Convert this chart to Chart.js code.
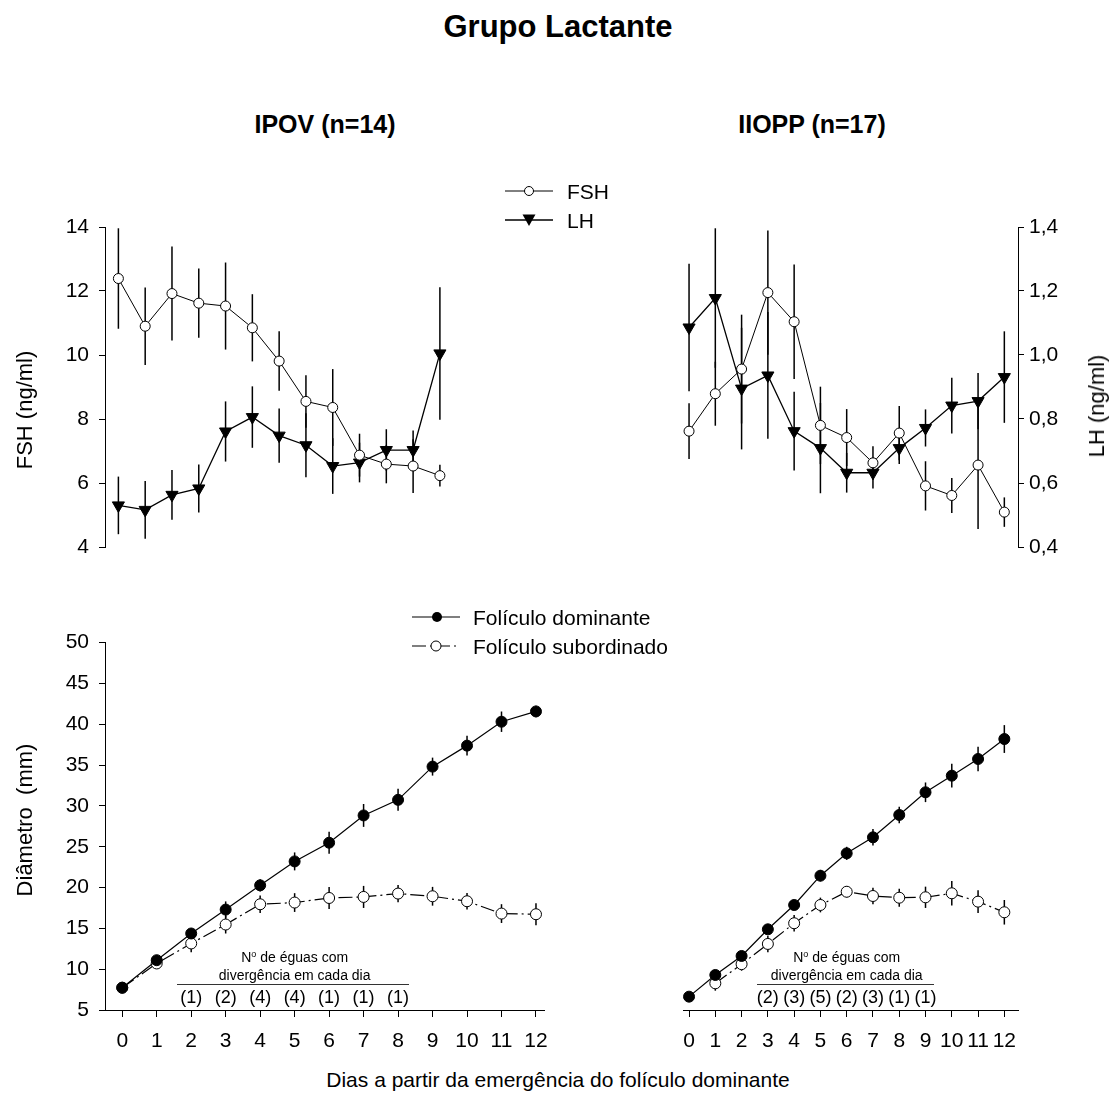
<!DOCTYPE html>
<html>
<head>
<meta charset="utf-8">
<script src="https://cdn.jsdelivr.net/npm/chart.js@4.4.0/dist/chart.umd.min.js"></script>
<style>
  body { margin: 0; background: #fff; }
  #page { position: relative; width: 1116px; height: 1110px; overflow: hidden;
          font-family: "Liberation Sans", Arial, sans-serif; color: #000; }
  canvas { position: absolute; }
  .t { position: absolute; white-space: nowrap; transform: translate(-50%, -50%); }
  .l { position: absolute; white-space: nowrap; transform: translateY(-50%); }
  .rot { transform: translate(-50%, -50%) rotate(-90deg); }
  .rule { position: absolute; height: 1px; background: #333; }
  svg { position: absolute; overflow: visible; }
</style>
</head>
<body>
<div id="page">
  <canvas id="topLeft" width="560" height="440" style="left:0;top:180px"></canvas>
  <canvas id="topRight" width="556" height="440" style="left:560px;top:180px"></canvas>
  <canvas id="botLeft" width="560" height="440" style="left:0;top:620px"></canvas>
  <canvas id="botRight" width="556" height="440" style="left:560px;top:620px"></canvas>

  <div class="t" style="left:558px;top:27px;font-size:31px;font-weight:bold">Grupo Lactante</div>
  <div class="t" style="left:325px;top:124px;font-size:25px;font-weight:bold">IPOV (n=14)</div>
  <div class="t" style="left:812px;top:124px;font-size:25px;font-weight:bold">IIOPP (n=17)</div>

  <div class="t rot" style="left:25px;top:410px;font-size:22px">FSH (ng/ml)</div>
  <div class="t rot" style="left:1097px;top:406px;font-size:22px">LH (ng/ml)</div>
  <div class="t rot" style="left:25px;top:820px;font-size:22px">Diâmetro&nbsp;&nbsp;(mm)</div>
  <div class="t" style="left:558px;top:1080px;font-size:21px">Dias a partir da emergência do folículo dominante</div>

  <!-- legends -->
  <svg style="left:0;top:0" width="1" height="1">
    <line x1="505" y1="191" x2="553" y2="191" stroke="#000" stroke-width="1"/>
    <circle cx="529" cy="191" r="4.5" fill="#fff" stroke="#000" stroke-width="1"/>
    <line x1="505" y1="220" x2="553" y2="220" stroke="#000" stroke-width="1.3"/>
    <polygon points="522.5,214.5 535.5,214.5 529,226" fill="#000"/>
    <line x1="412" y1="617" x2="460" y2="617" stroke="#000" stroke-width="1.2"/>
    <circle cx="437" cy="617" r="5" fill="#000"/>
    <line x1="412" y1="646" x2="460" y2="646" stroke="#000" stroke-width="1.2" stroke-dasharray="14,4,2,4"/>
    <circle cx="436" cy="646" r="5" fill="#fff" stroke="#000" stroke-width="1"/>
  </svg>
  <div class="l" style="left:567px;top:192px;font-size:21px">FSH</div>
  <div class="l" style="left:567px;top:221px;font-size:21px">LH</div>
  <div class="l" style="left:473px;top:618px;font-size:21px">Folículo dominante</div>
  <div class="l" style="left:473px;top:647px;font-size:21px">Folículo subordinado</div>
</div>

<script>
// days after emergence of the dominant follicle
const days = [0, 1, 2, 3, 4, 5, 6, 7, 8, 9, 10, 11, 12];

// IPOV (n=14) hormones
const fshIPOV   = [12.39, 10.90, 11.92, 11.62, 11.53, 10.85, 9.81, 8.55, 8.36, 6.87, 6.59, 6.53, 6.23];
const fshIPOVse = [1.57, 1.21, 1.47, 1.08, 1.36, 1.05, 0.93, 0.82, 1.20, 0.67, 0.60, 0.84, 0.34];
const lhIPOV    = [0.530, 0.516, 0.563, 0.583, 0.761, 0.806, 0.748, 0.718, 0.653, 0.664, 0.703, 0.703, 1.005];
const lhIPOVse  = [0.090, 0.090, 0.078, 0.075, 0.094, 0.096, 0.085, 0.100, 0.087, 0.062, 0.065, 0.061, 0.207];

// IIOPP (n=17) hormones
const fshIIOPP   = [7.62, 8.79, 9.56, 11.95, 11.04, 7.80, 7.42, 6.63, 7.56, 5.91, 5.61, 6.56, 5.09];
const fshIIOPPse = [0.87, 1.00, 1.70, 1.94, 1.79, 1.21, 0.89, 0.52, 0.85, 0.77, 0.55, 2.00, 0.46];
const lhIIOPP    = [1.086, 1.178, 0.895, 0.936, 0.762, 0.709, 0.632, 0.632, 0.709, 0.772, 0.842, 0.856, 0.931];
const lhIIOPPse  = [0.199, 0.218, 0.190, 0.198, 0.123, 0.141, 0.062, 0.049, 0.050, 0.058, 0.087, 0.088, 0.143];

// follicle diameters (mm)
const domIPOV    = [7.73, 11.10, 14.37, 17.30, 20.27, 23.20, 25.49, 28.83, 30.74, 34.81, 37.38, 40.31, 41.57];
const domIPOVse  = [0.3, 0.4, 0.6, 1.0, 0.75, 1.1, 1.35, 1.4, 1.35, 1.1, 1.2, 1.25, 0.7];
const subIPOV    = [7.73, 10.70, 13.15, 15.47, 17.95, 18.16, 18.72, 18.85, 19.26, 18.93, 18.32, 16.81, 16.73];
const subIPOVse  = [0.3, 0.5, 1.07, 1.1, 1.08, 1.15, 1.35, 1.35, 1.05, 1.15, 1.0, 1.15, 1.35];
const domIIOPP   = [6.63, 9.28, 11.60, 14.86, 17.83, 21.41, 24.14, 26.10, 28.83, 31.60, 33.63, 35.67, 38.11];
const domIIOPPse = [0.2, 0.3, 0.4, 0.5, 0.5, 0.7, 0.8, 1.0, 1.0, 1.2, 1.45, 1.5, 1.7];
const subIIOPP   = [null, 8.26, 10.60, 13.07, 15.60, 17.83, 19.45, 18.93, 18.72, 18.77, 19.26, 18.24, 16.94];
const subIIOPPse = [null, 0.9, 0.8, 1.0, 1.0, 0.9, 0.7, 1.0, 1.1, 1.3, 1.5, 1.4, 1.5];

// number of mares with divergence on each day
const divDaysIPOV    = [2, 3, 4, 5, 6, 7, 8];
const divCountsIPOV  = [1, 2, 4, 4, 1, 1, 1];
const divDaysIIOPP   = [3, 4, 5, 6, 7, 8, 9];
const divCountsIIOPP = [2, 3, 5, 2, 3, 1, 1];

const FONT = { family: '"Liberation Sans", Arial, sans-serif', size: 21 };

const pts = vals => days.map((d, i) => ({ x: d, y: vals[i] }));

// vertical SEM bars under the markers
const errorBars = {
  id: 'errorBars',
  beforeDatasetsDraw(chart) {
    const ctx = chart.ctx;
    chart.data.datasets.forEach((ds, i) => {
      if (!ds.err) return;
      const meta = chart.getDatasetMeta(i);
      const ys = chart.scales[meta.yAxisID];
      ctx.save();
      ctx.strokeStyle = '#000';
      ctx.lineWidth = 1.5;
      meta.data.forEach((p, j) => {
        const v = ds.data[j].y, e = ds.err[j];
        if (v == null || e == null) return;
        ctx.beginPath();
        ctx.moveTo(p.x, ys.getPixelForValue(v - e));
        ctx.lineTo(p.x, ys.getPixelForValue(v + e));
        ctx.stroke();
      });
      ctx.restore();
    });
  }
};

function line(vals, err, yAxisID, opts) {
  return Object.assign({
    data: pts(vals), err, yAxisID,
    borderColor: '#000', borderWidth: 1, pointBorderWidth: 1,
    pointBorderColor: '#000', pointBackgroundColor: '#fff',
    pointRadius: 5, pointStyle: 'circle', tension: 0, clip: false, spanGaps: false
  }, opts);
}

const TRI = { pointStyle: 'triangle', pointRotation: 180, pointRadius: 7,
              pointBackgroundColor: '#000', borderWidth: 1.3 };

function axisStyle() {
  return {
    grid: { drawOnChartArea: false, drawTicks: true, tickLength: 6, color: '#000' },
    border: { display: true, color: '#000', width: 1 },
  };
}

function xScale(min, max, show) {
  return Object.assign(axisStyle(), {
    type: 'linear', min, max, display: show,
    grid: { drawOnChartArea: false, drawTicks: true, tickLength: 7, color: '#000' },
    ticks: { color: '#000', font: FONT, padding: 12, autoSkip: false, maxRotation: 0, minRotation: 0 },
    afterBuildTicks: s => { s.ticks = days.map(v => ({ value: v })); },
    afterFit: s => { s.height = 50; }
  });
}

function baseOptions(scales, padding) {
  return {
    responsive: false, animation: false, events: [],
    layout: { padding },
    plugins: { legend: { display: false }, tooltip: { enabled: false } },
    scales
  };
}

const fshAxis = show => Object.assign(axisStyle(), {
  position: 'left', min: 4, max: 14, display: show,
  ticks: { stepSize: 2, color: '#000', font: FONT, padding: 10 },
  afterFit: s => { s.width = 105; }
});
const lhAxis = show => Object.assign(axisStyle(), {
  position: 'right', min: 0.4, max: 1.4, display: show,
  ticks: { stepSize: 0.2, color: '#000', font: FONT, padding: 5,
           callback: v => v.toFixed(1).replace('.', ',') },
  afterFit: s => { s.width = 98; }
});
const diamAxis = show => Object.assign(axisStyle(), {
  position: 'left', min: 5, max: 50, display: show,
  ticks: { stepSize: 5, color: '#000', font: FONT, padding: 10 },
  afterFit: s => { s.width = 105; }
});

const charts = {};

charts.topLeft = new Chart(document.getElementById('topLeft'), {
  type: 'line',
  data: { datasets: [
    line(fshIPOV, fshIPOVse, 'y', {}),
    line(lhIPOV, lhIPOVse, 'y1', TRI)
  ] },
  options: baseOptions({ x: xScale(-0.5, 12.25, false), y: fshAxis(true), y1: lhAxis(false) },
                       { top: 47, bottom: 23, left: 0, right: 15.4 }),
  plugins: [errorBars]
});

charts.topRight = new Chart(document.getElementById('topRight'), {
  type: 'line',
  data: { datasets: [
    line(fshIIOPP, fshIIOPPse, 'y', {}),
    line(lhIIOPP, lhIIOPPse, 'y1', TRI)
  ] },
  options: baseOptions({ x: xScale(-0.23, 12.52, false), y: fshAxis(false), y1: lhAxis(true) },
                       { top: 47, bottom: 23, left: 18, right: 0 }),
  plugins: [errorBars]
});

const DOM = { pointBackgroundColor: '#000', pointRadius: 5.5, borderWidth: 1.2 };
const SUB = { pointRadius: 5.5, borderWidth: 1.2, borderDash: [14, 4, 2, 4] };

charts.botLeft = new Chart(document.getElementById('botLeft'), {
  type: 'line',
  data: { datasets: [
    line(domIPOV, domIPOVse, 'y', DOM),
    line(subIPOV, subIPOVse, 'y', SUB)
  ] },
  options: baseOptions({ x: xScale(-0.5, 12.25, true), y: diamAxis(true) },
                       { top: 21.7, bottom: 0, left: 0, right: 15.4 }),
  plugins: [errorBars]
});

charts.botRight = new Chart(document.getElementById('botRight'), {
  type: 'line',
  data: { datasets: [
    line(domIIOPP, domIIOPPse, 'y', DOM),
    line(subIIOPP, subIIOPPse, 'y', SUB)
  ] },
  options: baseOptions({ x: xScale(-0.23, 12.52, true), y: diamAxis(false) },
                       { top: 21.7, bottom: 0, left: 18, right: 98 }),
  plugins: [errorBars]
});

// divergence annotation, placed with the x scale of each bottom chart
const page = document.getElementById('page');
function addDiv(html, cls, style) {
  const el = document.createElement('div');
  el.className = cls;
  el.innerHTML = html;
  Object.assign(el.style, style);
  page.appendChild(el);
  return el;
}
function divergence(chart, offsetLeft, dd, counts) {
  const xs = chart.scales.x;
  const px = d => offsetLeft + xs.getPixelForValue(d);
  const mid = (dd[0] + dd[dd.length - 1]) / 2;
  addDiv('N<sup style="font-size:9px">o</sup> de éguas com', 't', { left: px(mid) + 'px', top: '957px', fontSize: '14px' });
  addDiv('divergência em cada dia', 't', { left: px(mid) + 'px', top: '975px', fontSize: '14px' });
  const x0 = px(dd[0] - 0.4), x1 = px(dd[dd.length - 1] + 0.32);
  addDiv('', 'rule', { left: x0 + 'px', top: '984px', width: (x1 - x0) + 'px' });
  dd.forEach((d, i) => {
    addDiv('(' + counts[i] + ')', 't', { left: px(d) + 'px', top: '997px', fontSize: '18px' });
  });
}
divergence(charts.botLeft, 0, divDaysIPOV, divCountsIPOV);
divergence(charts.botRight, 560, divDaysIIOPP, divCountsIIOPP);
</script>
</body>
</html>
